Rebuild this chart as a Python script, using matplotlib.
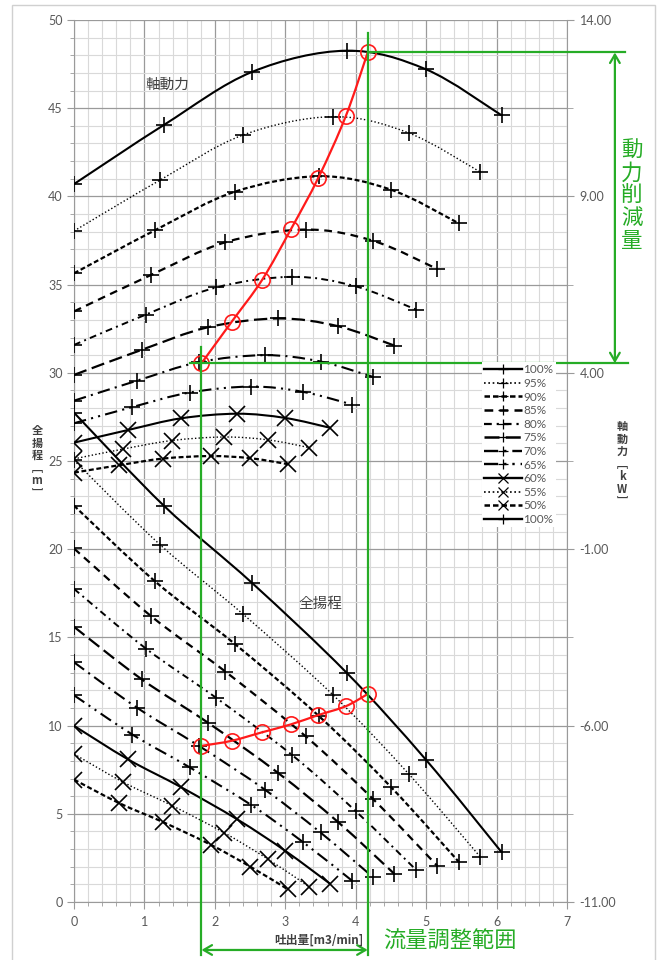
import matplotlib
matplotlib.use("Agg")
import matplotlib.pyplot as plt
from matplotlib.path import Path
from matplotlib.patches import PathPatch, Rectangle, FancyArrowPatch
from matplotlib.lines import Line2D
from matplotlib.ticker import MultipleLocator, FixedLocator, FormatStrFormatter

plt.rcParams['font.family'] = ['Lato', 'Noto Sans CJK JP', 'DejaVu Sans']

# ---------------- data ----------------
speeds = ['100%', '95%', '90%', '85%', '80%', '75%', '70%', '65%', '60%', '55%', '50%']

flow = {
    '100%': [0, 1.28, 2.53, 3.87, 5.00, 6.07],
    '95%':  [0, 1.22, 2.40, 3.68, 4.75, 5.77],
    '90%':  [0, 1.15, 2.28, 3.48, 4.50, 5.46],
    '85%':  [0, 1.09, 2.15, 3.29, 4.25, 5.16],
    '80%':  [0, 1.02, 2.02, 3.10, 4.00, 4.86],
    '75%':  [0, 0.96, 1.90, 2.90, 3.75, 4.55],
    '70%':  [0, 0.90, 1.77, 2.71, 3.50, 4.25],
    '65%':  [0, 0.83, 1.64, 2.52, 3.25, 3.95],
    '60%':  [0, 0.77, 1.52, 2.32, 3.00, 3.64],
    '55%':  [0, 0.70, 1.39, 2.13, 2.75, 3.34],
    '50%':  [0, 0.64, 1.27, 1.94, 2.50, 3.04],
}
head = {
    '100%': [27.74, 22.45, 18.08, 13.00, 8.05, 2.83],
    '95%':  [25.04, 20.26, 16.32, 11.73, 7.27, 2.55],
    '90%':  [22.47, 18.18, 14.64, 10.53, 6.52, 2.29],
    '85%':  [20.04, 16.22, 13.06, 9.39, 5.82, 2.04],
    '80%':  [17.75, 14.37, 11.57, 8.32, 5.15, 1.81],
    '75%':  [15.60, 12.63, 10.17, 7.31, 4.53, 1.59],
    '70%':  [13.59, 11.00, 8.86, 6.37, 3.94, 1.39],
    '65%':  [11.72, 9.49, 7.64, 5.49, 3.40, 1.20],
    '60%':  [9.99, 8.08, 6.51, 4.68, 2.90, 1.02],
    '55%':  [8.39, 6.79, 5.47, 3.93, 2.44, 0.86],
    '50%':  [6.94, 5.61, 4.52, 3.25, 2.01, 0.71],
}
power = {  # kW (right axis)
    '100%': [9.35, 11.03, 12.53, 13.13, 12.60, 11.30],
    '95%':  [8.02, 9.46, 10.74, 11.26, 10.80, 9.69],
    '90%':  [6.82, 8.04, 9.13, 9.57, 9.19, 8.24],
    '85%':  [5.74, 6.77, 7.70, 8.06, 7.74, 6.94],
    '80%':  [4.79, 5.65, 6.42, 6.72, 6.45, 5.79],
    '75%':  [3.94, 4.65, 5.29, 5.54, 5.32, 4.77],
    '70%':  [3.21, 3.78, 4.30, 4.50, 4.32, 3.88],
    '65%':  [2.57, 3.03, 3.44, 3.61, 3.46, 3.10],
    '60%':  [2.02, 2.38, 2.71, 2.84, 2.72, 2.44],
    '55%':  [1.56, 1.84, 2.08, 2.18, 2.10, 1.88],
    '50%':  [1.17, 1.38, 1.57, 1.64, 1.58, 1.41],
}

# operating points (red)
op_flow = [1.81, 2.24, 2.67, 3.08, 3.47, 3.86, 4.17]
op_head = [8.85, 9.14, 9.62, 10.07, 10.60, 11.10, 11.79]
op_power = [4.27, 5.45, 6.63, 8.07, 9.53, 11.28, 13.08]

x_ticks = [0, 1, 2, 3, 4, 5, 6, 7]
left_ticks = [0, 5, 10, 15, 20, 25, 30, 35, 40, 45, 50]
right_ticks = [-11, -6, -1, 4, 9, 14]

# ---------------- styles ----------------
styles = {
    '100%': dict(ls='-', lw=1.5, marker='+'),
    '95%':  dict(ls=(0, (1, 1.6)), lw=1.0, marker='+'),
    '90%':  dict(ls=(0, (2.2, 1.2)), lw=1.6, marker='+'),
    '85%':  dict(ls=(0, (3.5, 2.5)), lw=1.6, marker='+'),
    '80%':  dict(ls=(0, (3.5, 2.2, 1, 2.2)), lw=1.4, marker='+'),
    '75%':  dict(ls=(0, (6, 2.5)), lw=1.6, marker='+'),
    '70%':  dict(ls=(0, (6, 2.5, 1, 2.5)), lw=1.5, marker='+'),
    '65%':  dict(ls=(0, (6, 2.5, 1, 2.5, 1, 2.5)), lw=1.5, marker='+'),
    '60%':  dict(ls='-', lw=1.5, marker='x'),
    '55%':  dict(ls=(0, (1, 1.6)), lw=1.0, marker='x'),
    '50%':  dict(ls=(0, (2.2, 1.2)), lw=1.6, marker='x'),
}

GREEN = '#26AC26'
RED = '#FF1A1A'
GRAY_TXT = '#595959'


def smooth_patch(ax, xs, ys, **kw):
    """Excel-like smoothed line through the points (cubic Bezier)."""
    n = len(xs)
    verts = [(xs[0], ys[0])]
    codes = [Path.MOVETO]
    for i in range(n - 1):
        a = i - 1 if i > 0 else i
        d = i + 2 if i + 2 < n else i + 1
        c1 = (xs[i] + (xs[i + 1] - xs[a]) / 6.0, ys[i] + (ys[i + 1] - ys[a]) / 6.0)
        c2 = (xs[i + 1] - (xs[d] - xs[i]) / 6.0, ys[i + 1] - (ys[d] - ys[i]) / 6.0)
        verts += [c1, c2, (xs[i + 1], ys[i + 1])]
        codes += [Path.CURVE4] * 3
    p = PathPatch(Path(verts, codes), fill=False, **kw)
    ax.add_patch(p)
    return p


fig = plt.figure(figsize=(6.6, 9.6), dpi=100)
fig.patch.set_facecolor('white')
fig.add_artist(Rectangle((12 / 660, -0.01), 643 / 660, 1 - 5 / 960 + 0.01,
                         transform=fig.transFigure, fill=False,
                         edgecolor='#d0d0d0', lw=1.0))

ax = fig.add_axes([74 / 660, 1 - 902 / 960, 493 / 660, 882 / 960])
ax.set_xlim(0, 7)
ax.set_ylim(0, 50)
ax2 = ax.twinx()
ax2.set_ylim(-11, 14)

# grid
ax.xaxis.set_major_locator(FixedLocator(x_ticks))
ax.xaxis.set_minor_locator(MultipleLocator(0.2))
ax.yaxis.set_major_locator(FixedLocator(left_ticks))
ax.yaxis.set_minor_locator(MultipleLocator(1))
ax.grid(which='minor', color='#d9d9d9', lw=0.8)
ax.grid(which='major', color='#9a9a9a', lw=0.9)
ax.set_axisbelow(True)

for sp in ['top', 'right']:
    ax.spines[sp].set_visible(False)
for sp in ['top', 'left', 'bottom']:
    ax2.spines[sp].set_visible(False)
for sp in ['left', 'bottom']:
    ax.spines[sp].set_color('#9a9a9a')
ax2.spines['right'].set_color('#9a9a9a')

ax.tick_params(axis='both', which='major', length=5, color='#9a9a9a',
               labelcolor=GRAY_TXT, labelsize=9)
ax.tick_params(axis='both', which='minor', length=3, color='#9a9a9a')
ax.tick_params(axis='y', which='major', pad=3)
ax.tick_params(axis='x', which='major', pad=5)

ax2.yaxis.set_major_locator(FixedLocator(right_ticks))
ax2.yaxis.set_minor_locator(FixedLocator([-8.5, -3.5, 1.5, 6.5, 11.5]))
ax2.yaxis.set_major_formatter(FormatStrFormatter('%.2f'))
ax2.tick_params(axis='y', which='major', length=5, color='#9a9a9a',
                labelcolor=GRAY_TXT, labelsize=9, pad=4)
ax2.tick_params(axis='y', which='minor', length=4, color='#9a9a9a')

# curves
for s in speeds:
    st = styles[s]
    smooth_patch(ax, flow[s], head[s], edgecolor='black', lw=st['lw'],
                 linestyle=st['ls'], zorder=3)
    ax.plot(flow[s], head[s], ls='none', marker=st['marker'], ms=11,
            mew=1.2, color='black', zorder=4)
    smooth_patch(ax2, flow[s], power[s], edgecolor='black', lw=st['lw'],
                 linestyle=st['ls'], zorder=3)
    ax2.plot(flow[s], power[s], ls='none', marker=st['marker'], ms=11,
             mew=1.2, color='black', zorder=4)

# operating points
smooth_patch(ax, op_flow, op_head, edgecolor=RED, lw=1.6, zorder=6)
ax.plot(op_flow, op_head, ls='none', marker='o', ms=11, mfc='none',
        mec=RED, mew=1.2, zorder=7)
smooth_patch(ax2, op_flow, op_power, edgecolor=RED, lw=1.6, zorder=6)
ax2.plot(op_flow, op_power, ls='none', marker='o', ms=11, mfc='none',
         mec=RED, mew=1.2, zorder=7)

# green guide lines (unclipped)
q_lo, q_hi = op_flow[0], op_flow[-1]
ax2.plot([q_hi, q_hi], [13.63, -12.5], color=GREEN, lw=1.6, clip_on=False, zorder=8)
ax2.plot([q_lo, q_lo], [4.73, -12.5], color=GREEN, lw=1.6, clip_on=False, zorder=8)
ax2.plot([q_hi, 7.83], [op_power[-1], op_power[-1]], color=GREEN, lw=1.6,
         clip_on=False, zorder=8)
ax2.plot([1.65, 7.87], [op_power[0], op_power[0]], color=GREEN, lw=1.6,
         clip_on=False, zorder=8)
arr1 = FancyArrowPatch((7.68, op_power[-1]), (7.68, op_power[0]),
                       arrowstyle='<->,head_length=6,head_width=3.5',
                       color=GREEN, lw=1.6, shrinkA=0, shrinkB=0,
                       transform=ax2.transData, clip_on=False, zorder=8)
ax2.add_patch(arr1)
arr2 = FancyArrowPatch((q_lo, -12.36), (q_hi, -12.36),
                       arrowstyle='<->,head_length=6,head_width=3.5',
                       color=GREEN, lw=1.6, shrinkA=0, shrinkB=0,
                       transform=ax2.transData, clip_on=False, zorder=8)
ax2.add_patch(arr2)

# texts
ax.text(1.32, 46.3, '軸動力', fontsize=10.5, color='#404040',
        ha='center', va='center', family=['Noto Sans CJK JP'])
ax.text(3.5, 16.9, '全揚程', fontsize=10.5, color='#404040',
        ha='center', va='center', family=['Noto Sans CJK JP'])
fig.text(632 / 660, 1 - 196 / 960, '動\n力\n削\n減\n量', fontsize=15.5,
         color=GREEN, ha='center', va='center', linespacing=1.02,
         family=['Noto Sans CJK JP'])
fig.text(450 / 660, 1 - 941 / 960, '流量調整範囲', fontsize=16,
         color=GREEN, ha='center', va='center', family=['Noto Sans CJK JP'])
fig.text(319 / 660, 1 - 940 / 960, '吐出量[m3/min]', fontsize=8.5,
         color='#404040', ha='center', va='center', weight='bold',
         family=['Noto Sans CJK JP'])
fig.text(37 / 660, 1 - 462 / 960, '全\n揚\n程\n﹇\nm\n﹈', fontsize=8,
         color='#404040', ha='center', va='center', linespacing=0.95,
         weight='bold', family=['Noto Sans CJK JP', 'DejaVu Sans'])
fig.text(622 / 660, 1 - 464 / 960, '軸\n動\n力\n﹇\nk\nW\n﹈', fontsize=8,
         color='#404040', ha='center', va='center', linespacing=0.95,
         weight='bold', family=['Noto Sans CJK JP', 'DejaVu Sans'])

# legend
handles = []
labels = []
for s in speeds + ['100%']:
    st = styles[s]
    handles.append(Line2D([], [], color='black', ls=st['ls'], lw=st['lw'] + 0.2,
                          marker=st['marker'], ms=7, mew=0.9))
    labels.append(s)
leg = ax2.legend(handles, labels, loc='upper left',
                 bbox_to_anchor=(482 / 660, 1 - 362 / 960),
                 bbox_transform=fig.transFigure, fontsize=8.5,
                 frameon=True, facecolor='white', edgecolor='none',
                 framealpha=1, fancybox=False, handlelength=3.2,
                 handletextpad=0.1, labelspacing=0.22, borderpad=0.2,
                 borderaxespad=0)
for t in leg.get_texts():
    t.set_color(GRAY_TXT)
leg.set_zorder(10)

fig.savefig('out.png', dpi=100, facecolor='white')
